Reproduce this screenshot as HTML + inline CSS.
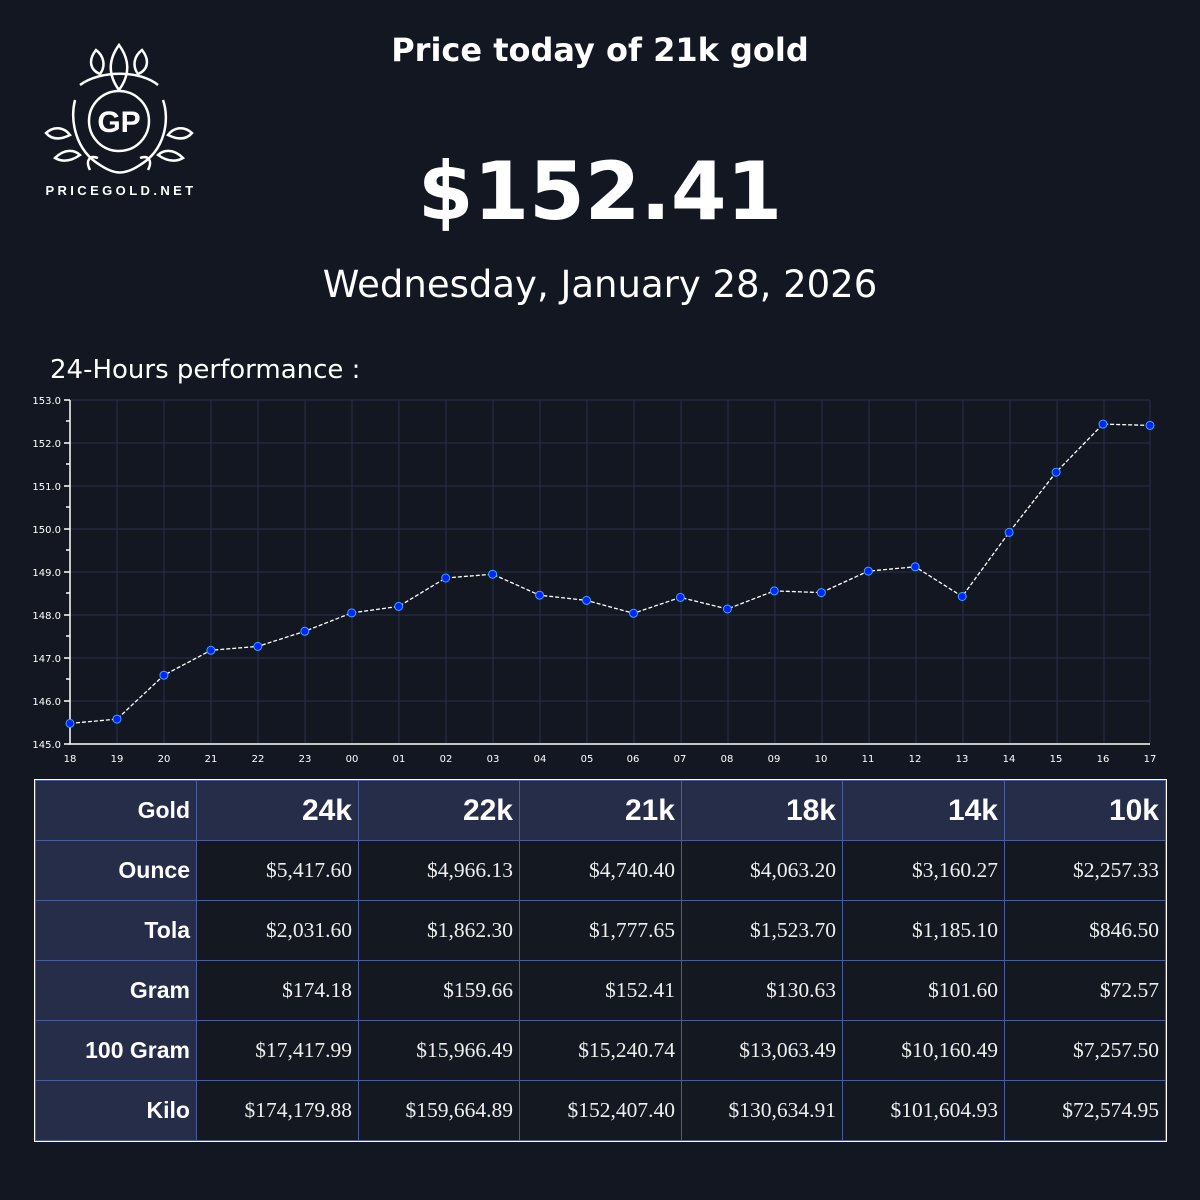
<!DOCTYPE html>
<html><head><meta charset="utf-8"><style>
body{margin:0;width:1200px;height:1200px;background:#131722;color:#fff;font-family:"DejaVu Sans","Liberation Sans",sans-serif;position:relative;overflow:hidden}
.abs{position:absolute}
table{position:absolute;left:35px;top:780px;border-collapse:collapse;outline:1px solid #fff}
td{border:1px solid #4a5c9c;height:60px;padding:0 6px;text-align:right;box-sizing:border-box}
td.h{background:#262d48;font-family:"Liberation Sans",sans-serif;font-weight:bold;font-size:23px}
td.k{font-size:30px}
td.d{background:#141821;font-family:"Liberation Serif",serif;font-size:21.5px;color:#eee}
</style></head><body>
<div class="abs" style="left:0;width:1200px;top:31px;text-align:center;font-weight:bold;font-size:32px">Price today of 21k gold</div>
<div class="abs" style="left:0;width:1200px;top:145px;text-align:center;font-weight:bold;font-size:80px">$152.41</div>
<div class="abs" style="left:0;width:1200px;top:263px;text-align:center;font-size:37px">Wednesday, January 28, 2026</div>
<div class="abs" style="left:50px;top:355px;font-size:26px">24-Hours performance :</div>
<svg class="abs" style="left:0;top:0" width="1200" height="780">
<g fill="none" stroke="#fff" stroke-width="2.5">
<circle cx="119" cy="121" r="30"/>
<path d="M119 45 C108 60 108 75 119 90 C130 75 130 60 119 45Z M96 50 C88 60 90 70 100 74 C106 66 104 56 96 50Z M142 50 C150 60 148 70 138 74 C132 66 134 56 142 50Z"/>
<path d="M75 100 C70 120 75 150 100 165 C115 175 125 175 140 165 C165 150 170 120 163 100 M80 85 C100 70 140 70 158 85"/>
<path d="M46 133 C55 125 65 128 70 135 C60 140 52 140 46 133Z M192 133 C183 125 173 128 168 135 C178 140 186 140 192 133Z M55 158 C65 148 75 150 80 155 C70 162 62 162 55 158Z M183 158 C173 148 163 150 158 155 C168 162 176 162 183 158Z M90 170 C85 160 90 155 98 158 M148 170 C153 160 148 155 140 158"/>
</g>
<text x="119" y="132" text-anchor="middle" fill="#fff" font-family="Liberation Sans,sans-serif" font-weight="bold" font-size="30">GP</text>
<text x="121" y="195" text-anchor="middle" fill="#fff" font-family="Liberation Sans,sans-serif" font-weight="bold" font-size="13" letter-spacing="3.4">PRICEGOLD.NET</text>
<g stroke="#2a2f48" stroke-width="1">
<path d="M70 400H1150M70 443H1150M70 486H1150M70 529H1150M70 572H1150M70 615H1150M70 658H1150M70 701H1150"/>
<path d="M117 400V744M164 400V744M211 400V744M258 400V744M305 400V744M352 400V744M399 400V744M446 400V744M493 400V744M540 400V744M587 400V744M634 400V744M681 400V744M728 400V744M775 400V744M822 400V744M869 400V744M916 400V744M963 400V744M1010 400V744M1057 400V744M1104 400V744M1150 400V744"/>
</g>
<g stroke="#fff" stroke-width="1.5" fill="none"><path d="M70 400V744H1150"/>
<path d="M64 400H70M64 443H70M64 486H70M64 529H70M64 572H70M64 615H70M64 658H70M64 701H70M64 744H70M66 421H70M66 464H70M66 507H70M66 550H70M66 593H70M66 636H70M66 679H70M66 722H70"/></g>
<g fill="#fff" font-size="10" text-anchor="end">
<text x="61" y="404">153.0</text><text x="61" y="447">152.0</text><text x="61" y="490">151.0</text><text x="61" y="533">150.0</text><text x="61" y="576">149.0</text><text x="61" y="619">148.0</text><text x="61" y="662">147.0</text><text x="61" y="705">146.0</text><text x="61" y="748">145.0</text></g>
<g fill="#fff" font-size="10" text-anchor="middle">
<text x="70" y="762">18</text><text x="117" y="762">19</text><text x="164" y="762">20</text><text x="211" y="762">21</text><text x="258" y="762">22</text><text x="305" y="762">23</text><text x="352" y="762">00</text><text x="399" y="762">01</text><text x="446" y="762">02</text><text x="493" y="762">03</text><text x="540" y="762">04</text><text x="587" y="762">05</text><text x="633" y="762">06</text><text x="680" y="762">07</text><text x="727" y="762">08</text><text x="774" y="762">09</text><text x="821" y="762">10</text><text x="868" y="762">11</text><text x="915" y="762">12</text><text x="962" y="762">13</text><text x="1009" y="762">14</text><text x="1056" y="762">15</text><text x="1103" y="762">16</text><text x="1150" y="762">17</text></g>
<polyline fill="none" stroke="#fff" stroke-width="1.3" stroke-dasharray="4,2" points="70,723.4 117,719.1 163.9,675.2 210.9,650.3 257.8,646.4 304.8,631.3 351.7,612.9 398.7,606.4 445.7,578 492.6,574.2 539.6,595.2 586.5,600.4 633.5,613.3 680.4,597.4 727.4,609 774.3,590.9 821.3,592.6 868.3,571.1 915.2,566.8 962.2,596.5 1009.1,532.4 1056.1,472.2 1103,424.1 1150,425.4"/>
<g fill="#0022ff" stroke="#33aaff" stroke-width="1">
<circle cx="70" cy="723.4" r="4"/><circle cx="117" cy="719.1" r="4"/><circle cx="163.9" cy="675.2" r="4"/><circle cx="210.9" cy="650.3" r="4"/><circle cx="257.8" cy="646.4" r="4"/><circle cx="304.8" cy="631.3" r="4"/><circle cx="351.7" cy="612.9" r="4"/><circle cx="398.7" cy="606.4" r="4"/><circle cx="445.7" cy="578" r="4"/><circle cx="492.6" cy="574.2" r="4"/><circle cx="539.6" cy="595.2" r="4"/><circle cx="586.5" cy="600.4" r="4"/><circle cx="633.5" cy="613.3" r="4"/><circle cx="680.4" cy="597.4" r="4"/><circle cx="727.4" cy="609" r="4"/><circle cx="774.3" cy="590.9" r="4"/><circle cx="821.3" cy="592.6" r="4"/><circle cx="868.3" cy="571.1" r="4"/><circle cx="915.2" cy="566.8" r="4"/><circle cx="962.2" cy="596.5" r="4"/><circle cx="1009.1" cy="532.4" r="4"/><circle cx="1056.1" cy="472.2" r="4"/><circle cx="1103" cy="424.1" r="4"/><circle cx="1150" cy="425.4" r="4"/></g>
</svg>
<table>
<colgroup><col style="width:161px"><col style="width:162px"><col style="width:161px"><col style="width:162px"><col style="width:161px"><col style="width:162px"><col style="width:161px"></colgroup>
<tr><td class="h">Gold</td><td class="h k">24k</td><td class="h k">22k</td><td class="h k">21k</td><td class="h k">18k</td><td class="h k">14k</td><td class="h k">10k</td></tr>
<tr><td class="h">Ounce</td><td class="d">$5,417.60</td><td class="d">$4,966.13</td><td class="d">$4,740.40</td><td class="d">$4,063.20</td><td class="d">$3,160.27</td><td class="d">$2,257.33</td></tr>
<tr><td class="h">Tola</td><td class="d">$2,031.60</td><td class="d">$1,862.30</td><td class="d">$1,777.65</td><td class="d">$1,523.70</td><td class="d">$1,185.10</td><td class="d">$846.50</td></tr>
<tr><td class="h">Gram</td><td class="d">$174.18</td><td class="d">$159.66</td><td class="d">$152.41</td><td class="d">$130.63</td><td class="d">$101.60</td><td class="d">$72.57</td></tr>
<tr><td class="h">100 Gram</td><td class="d">$17,417.99</td><td class="d">$15,966.49</td><td class="d">$15,240.74</td><td class="d">$13,063.49</td><td class="d">$10,160.49</td><td class="d">$7,257.50</td></tr>
<tr><td class="h">Kilo</td><td class="d">$174,179.88</td><td class="d">$159,664.89</td><td class="d">$152,407.40</td><td class="d">$130,634.91</td><td class="d">$101,604.93</td><td class="d">$72,574.95</td></tr>
</table>
</body></html>
